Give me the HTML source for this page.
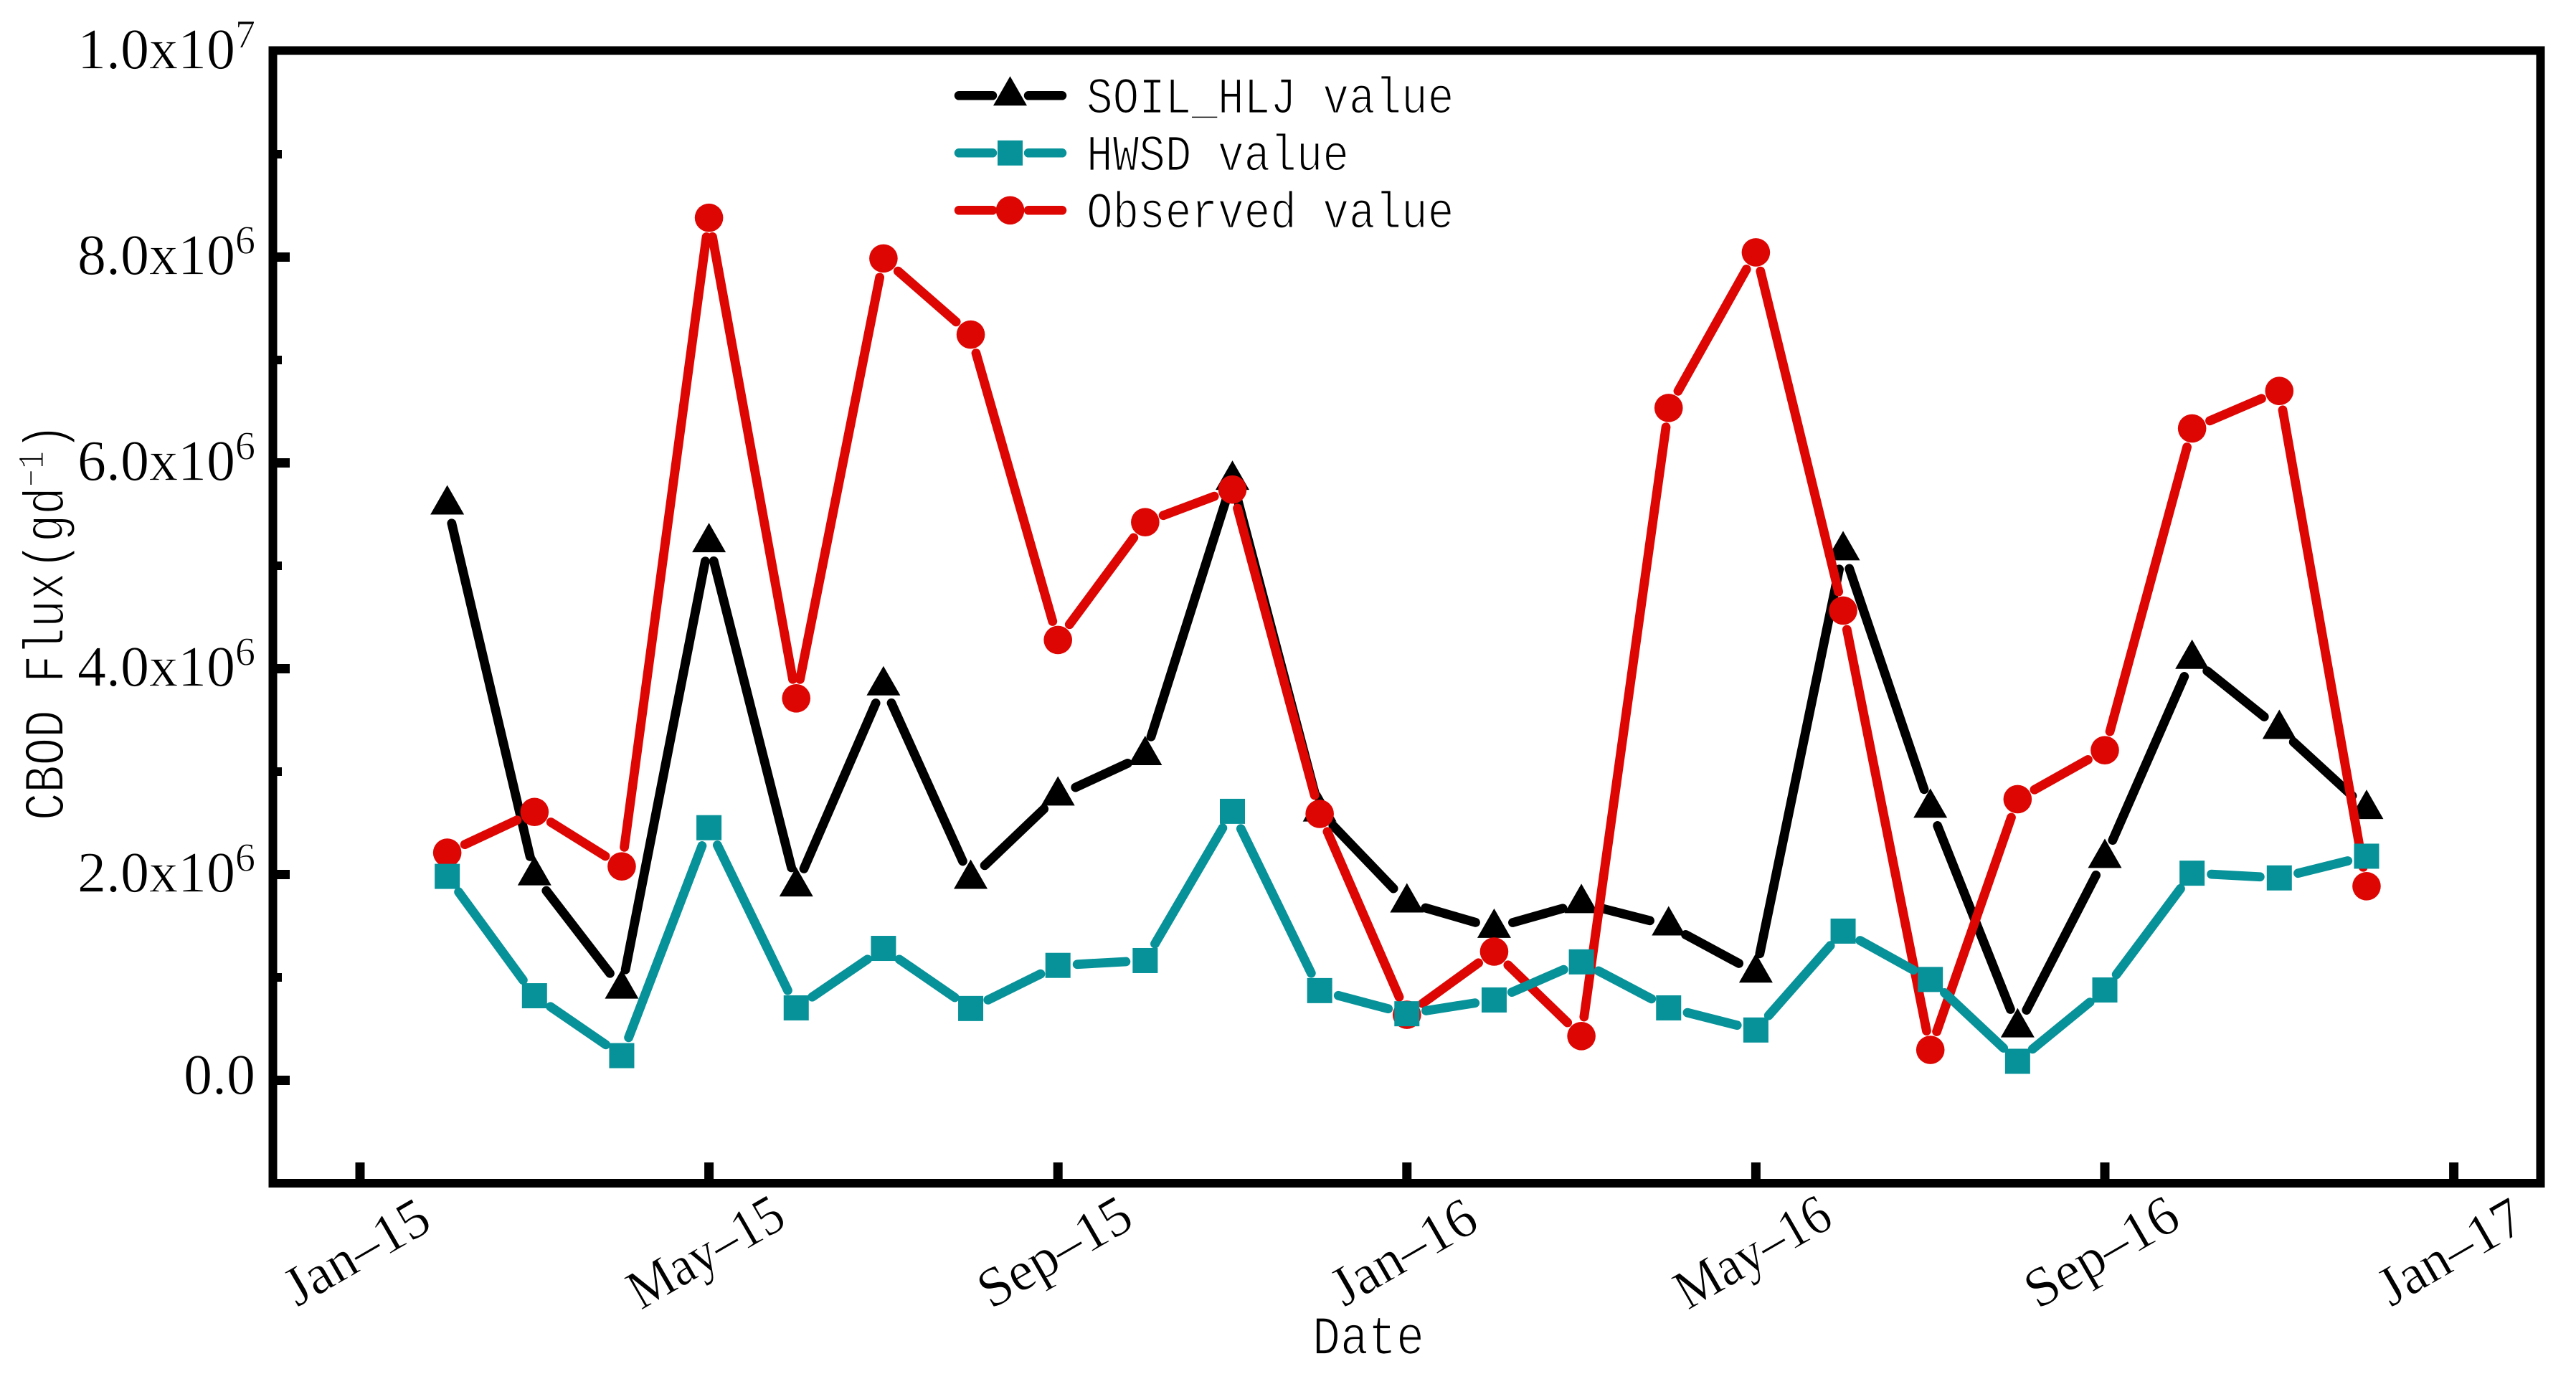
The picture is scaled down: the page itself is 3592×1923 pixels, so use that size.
<!DOCTYPE html>
<html lang="en">
<head>
<meta charset="utf-8">
<title>CBOD Flux chart</title>
<style>
html,body{margin:0;padding:0;background:#fff;}
svg{display:block;}
.serif{font-family:"Liberation Serif",serif;fill:#000;stroke:#fff;stroke-width:0.8px;}
.mono{font-family:"Liberation Mono",monospace;fill:#000;stroke:#fff;stroke-width:1.6px;}
</style>
</head>
<body>
<svg id="chart" xmlns="http://www.w3.org/2000/svg" width="3592" height="1923" viewBox="0 0 3592 1923">
  <rect x="0" y="0" width="3592" height="1923" fill="#fff"/>
  <g id="ticks"></g>
  <g id="series"></g>
  <rect x="380.5" y="70.5" width="3162" height="1579.5" fill="none" stroke="#000" stroke-width="12"/>
  <g id="labels"></g>
  <text class="mono" font-size="65" transform="translate(1830,1888) scale(1,1.17)">Date</text>
  <text class="mono" font-size="64" transform="translate(88,1144) rotate(-90) scale(1,1.24)">CBOD Flux<tspan dx="4">(gd</tspan><tspan font-size="42" dy="-22">−1</tspan><tspan dy="22">)</tspan></text>
  <g id="legend"></g>
</svg>
<script>
const categories = ['Feb-15','Mar-15','Apr-15','May-15','Jun-15','Jul-15','Aug-15','Sep-15','Oct-15','Nov-15','Dec-15','Jan-16','Feb-16','Mar-16','Apr-16','May-16','Jun-16','Jul-16','Aug-16','Sep-16','Oct-16','Nov-16','Dec-16'];
const soilHlj = [5.596e6,1.992e6,0.891e6,5.229e6,1.884e6,3.838e6,1.958e6,2.767e6,3.160e6,5.835e6,2.612e6,1.728e6,1.482e6,1.722e6,1.505e6,1.047e6,5.151e6,2.649e6,0.515e6,2.161e6,4.096e6,3.415e6,2.637e6];
const hwsd = [1.982e6,0.822e6,0.240e6,2.455e6,0.704e6,1.282e6,0.698e6,1.117e6,1.164e6,2.614e6,0.872e6,0.647e6,0.781e6,1.151e6,0.704e6,0.489e6,1.450e6,0.980e6,0.185e6,0.878e6,2.013e6,1.967e6,2.178e6];
const observed = [2.212e6,2.608e6,2.079e6,8.382e6,3.712e6,7.987e6,7.247e6,4.279e6,5.424e6,5.741e6,2.589e6,0.637e6,1.251e6,0.430e6,6.534e6,8.046e6,4.565e6,0.296e6,2.732e6,3.208e6,6.335e6,6.699e6,1.886e6];
const xTickLabels = ['Jan–15','May–15','Sep–15','Jan–16','May–16','Sep–16','Jan–17'];
const yTickValues = [0,2e6,4e6,6e6,8e6,1e7];
const yTickMantissas = ['0.0','2.0x10','4.0x10','6.0x10','8.0x10','1.0x10'];
const yTickExponents = ['','6','6','6','6','7'];
const yMinorValues = [1e6,3e6,5e6,7e6,9e6];

const NS = 'http://www.w3.org/2000/svg';
const TEAL = '#079299';
const RED = '#de0603';
const BLACK = '#000';
function xScale(monthsSinceJan15){ return 502 + monthsSinceJan15 * 121.65; }
function yScale(v){ return 1506.5 - v / 1e6 * 143.5; }
function make(tag, parent){ const el = document.createElementNS(NS, tag); parent.appendChild(el); return el; }
function setLine(el, x1, y1, x2, y2, color, w, cap){
  el.setAttribute('x1', x1); el.setAttribute('y1', y1);
  el.setAttribute('x2', x2); el.setAttribute('y2', y2);
  el.setAttribute('stroke', color); el.setAttribute('stroke-width', w);
  el.setAttribute('stroke-linecap', cap);
}
function shapeMarker(kind, parent, cx, cy, color){
  let el;
  if (kind === 'triangle') {
    el = make('polygon', parent);
    el.setAttribute('points', (cx) + ',' + (cy - 27) + ' ' + (cx + 23.5) + ',' + (cy + 14) + ' ' + (cx - 23.5) + ',' + (cy + 14));
  } else if (kind === 'square') {
    el = make('rect', parent);
    el.setAttribute('x', cx - 17.5); el.setAttribute('y', cy - 17.5);
    el.setAttribute('width', 35); el.setAttribute('height', 35);
  } else {
    el = make('circle', parent);
    el.setAttribute('cx', cx); el.setAttribute('cy', cy); el.setAttribute('r', 19.8);
  }
  el.setAttribute('fill', color);
  return el;
}
function drawSeries(values, kind, color, name){
  const g = make('g', document.getElementById('series'));
  
  
  const gap = 27;
  for (let i = 0; i < values.length - 1; i++) {
    const x1 = xScale(i + 1), y1 = yScale(values[i]), x2 = xScale(i + 2), y2 = yScale(values[i + 1]);
    const d = Math.hypot(x2 - x1, y2 - y1);
    if (d <= gap * 2) continue;
    const ux = (x2 - x1) / d, uy = (y2 - y1) / d;
    const seg = make('line', g);
    
    
    setLine(seg, x1 + ux * gap, y1 + uy * gap, x2 - ux * gap, y2 - uy * gap, color, 12.8, 'round');
  }
  values.forEach(function(v, i){
    const m = shapeMarker(kind, g, xScale(i + 1), yScale(v), color);
    
    
    const t = make('title', m);
    t.textContent = name + ' ' + categories[i];
  });
}
drawSeries(soilHlj, 'triangle', BLACK, 'soil-hlj');
drawSeries(observed, 'circle', RED, 'observed');
drawSeries(hwsd, 'square', TEAL, 'hwsd');

const ticks = document.getElementById('ticks');
const labels = document.getElementById('labels');
yTickValues.forEach(function(v, i){
  if (v < 1e7) {
    const t = make('line', ticks);
    
    
    setLine(t, 380, yScale(v), 404, yScale(v), BLACK, 13, 'butt');
  }
  const lab = make('text', labels);
  
  
  lab.setAttribute('class', 'serif');
  lab.setAttribute('font-size', '80');
  lab.setAttribute('text-anchor', 'end');
  lab.setAttribute('x', '356');
  lab.setAttribute('y', yScale(v) + (yTickExponents[i] ? 24 : 19));
  const a = make('tspan', lab);
  a.textContent = yTickMantissas[i];
  if (yTickExponents[i]) {
    const b = make('tspan', lab);
    b.setAttribute('font-size', '56');
    b.setAttribute('dy', '-29');
    b.textContent = yTickExponents[i];
  }
});
yMinorValues.forEach(function(v){
  const t = make('line', ticks);
  
  
  setLine(t, 380, yScale(v), 393, yScale(v), BLACK, 12, 'butt');
});
xTickLabels.forEach(function(s, i){
  const x = xScale(i * 4);
  const t = make('line', ticks);
  
  
  setLine(t, x, 1621, x, 1650, BLACK, 13, 'butt');
  const lab = make('text', labels);
  
  
  lab.setAttribute('class', 'serif');
  lab.setAttribute('font-size', '78');
  lab.setAttribute('text-anchor', 'middle');
  lab.setAttribute('transform', 'translate(' + (x - 3) + ',1749) rotate(-30) translate(0,22)');
  lab.textContent = s;
  if (lab.getComputedTextLength() > 238) {
    lab.setAttribute('textLength', '238');
    lab.setAttribute('lengthAdjust', 'spacingAndGlyphs');
  }
});

const legendNames = ['SOIL_HLJ value','HWSD value','Observed value'];
const legendKinds = ['triangle','square','circle'];
const legendColors = [BLACK, TEAL, RED];
const legend = document.getElementById('legend');
legendNames.forEach(function(s, i){
  const cy = 133.3 + i * 80;
  const g = make('g', legend);
  
  
  const l1 = make('line', g);
  
  
  setLine(l1, 1337, cy, 1384, cy, legendColors[i], 12.5, 'round');
  const l2 = make('line', g);
  
  
  setLine(l2, 1434, cy, 1481, cy, legendColors[i], 12.5, 'round');
  const m = shapeMarker(legendKinds[i], g, 1408.5, cy, legendColors[i]);
  
  
  const t = make('text', g);
  
  
  t.setAttribute('class', 'mono');
  t.setAttribute('font-size', '61');
  t.setAttribute('transform', 'translate(1515,' + (cy + 24) + ') scale(1,1.17)');
  t.textContent = s;
});
</script>
</body>
</html>
